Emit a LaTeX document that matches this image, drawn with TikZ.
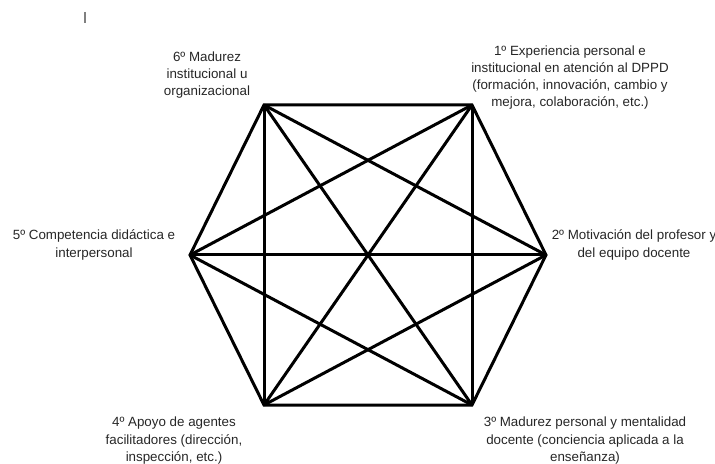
\documentclass[tikz,border=0pt]{standalone}
\usepackage{fontspec}
\setmainfont{Liberation Sans}
\definecolor{labelgray}{RGB}{38,38,38}
\tikzset{
  segment/.style={line width=0.075cm, black},
  factor/.style={align=center, text=labelgray, inner sep=0pt,
    font=\fontsize{9.5}{12.2}\selectfont},
}
\begin{document}
\begin{tikzpicture}
                    \useasboundingbox (0.000000,0.000000) rectangle (17.875000,11.575000);

                    % Marking point A (1)
                    \coordinate (A) at (11.800000,8.950000);%

                    % Marking point B (2)
                    \coordinate (B) at (13.650000,5.200000);%

                    % Marking point C (3)
                    \coordinate (C) at (11.800000,1.450000);%

                    % Marking point D (4)
                    \coordinate (D) at (6.600000,1.450000);%

                    % Marking point E (5)
                    \coordinate (E) at (4.750000,5.200000);%

                    % Marking point F (6)
                    \coordinate (F) at (6.600000,8.950000);%

                    % Drawing segment A C
                    \draw [segment] (A) -- (C);%

                    % Drawing segment A D
                    \draw [segment] (A) -- (D);%

                    % Drawing segment A E
                    \draw [segment] (A) -- (E);%

                    % Drawing segment B D
                    \draw [segment] (B) -- (D);%

                    % Drawing segment B E
                    \draw [segment] (B) -- (E);%

                    % Drawing segment B F
                    \draw [segment] (B) -- (F);%

                    % Drawing segment C E
                    \draw [segment] (C) -- (E);%

                    % Drawing segment C F
                    \draw [segment] (C) -- (F);%

                    % Drawing segment D F
                    \draw [segment] (D) -- (F);%

                    % Drawing hexagon A B C D E F
                    \draw [segment] (A) -- (B) -- (C) -- (D) -- (E) -- (F) -- cycle;%

                    % Marking label 1
                    \node [factor] (lab1) at (14.250000,9.637500)
                      {1º Experiencia personal e\\institucional en atención al DPPD\\(formación, innovación, cambio y\\mejora, colaboración, etc.)};%

                    % Marking label 2
                    \node [factor] (lab2) at (15.850000,5.450000)
                      {2º Motivación del profesor y\\del equipo docente};%

                    % Marking label 3
                    \node [factor] (lab3) at (14.625000,0.560000)
                      {3º Madurez personal y mentalidad\\docente (conciencia aplicada a la\\enseñanza)};%

                    % Marking label 4
                    \node [factor] (lab4) at (4.350000,0.560000)
                      {4º Apoyo de agentes\\facilitadores (dirección,\\inspección, etc.)};%

                    % Marking label 5
                    \node [factor] (lab5) at (2.350000,5.450000)
                      {5º Competencia didáctica e\\interpersonal};%

                    % Marking label 6
                    \node [factor] (lab6) at (5.175000,9.700000)
                      {6º Madurez\\institucional u\\organizacional};%

                    % Stray cursor mark
                    \draw [line width=0.035cm, gray] (2.125000,11.275000) -- (2.125000,11.000000);%
\end{tikzpicture}
\end{document}
